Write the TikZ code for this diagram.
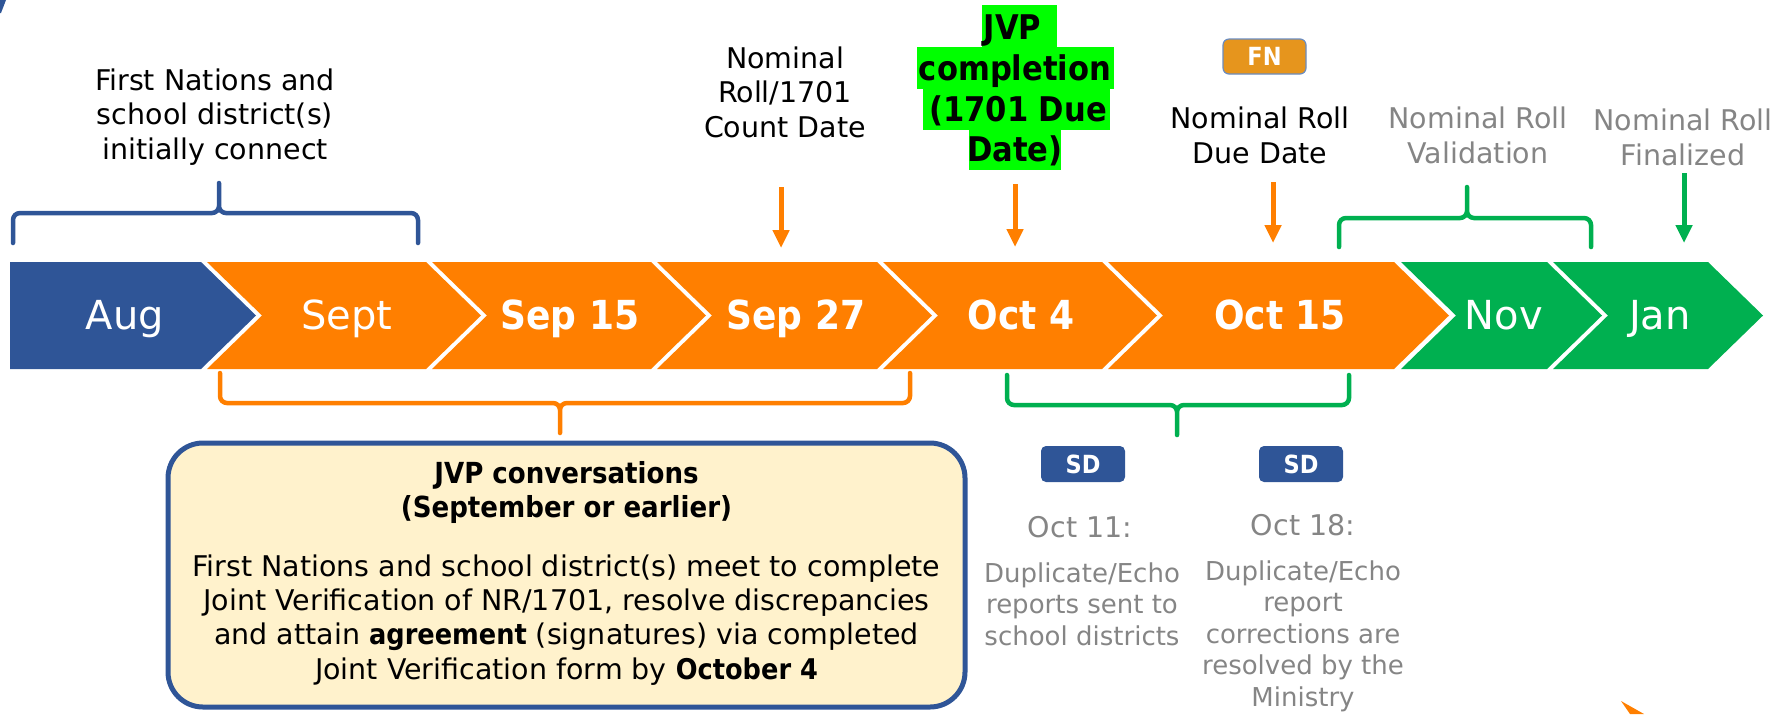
\documentclass[tikz,border=0pt]{standalone}
\usepackage{fontspec}
\setmainfont{DejaVu Sans}[BoldFeatures={FakeStretch=0.9}]
\usetikzlibrary{arrows.meta}
\definecolor{nblue}{HTML}{2F5597}
\definecolor{norange}{HTML}{FF7F00}
\definecolor{ngreen}{HTML}{00B050}
\definecolor{ngray}{HTML}{858585}
\definecolor{nfn}{HTML}{E6951D}
\definecolor{nyellow}{HTML}{FFF2CC}
\definecolor{nhl}{HTML}{00FF00}
\definecolor{nfnborder}{HTML}{6A8CC0}
\newcommand\mychev[3]{\fill[#1] (#2,262) -- (#3,262) -- ({#3+55},315.5) -- (#3,369) -- (#2,369) -- ({#2+55},315.5) -- cycle;}
\begin{document}
\begin{tikzpicture}[x=0.5pt,y=-0.5pt,
  lbl/.style={inner sep=0pt, anchor=base, align=center, font=\fontsize{14.25pt}{17.25pt}\selectfont},
  small/.style={inner sep=0pt, anchor=base, align=center, text=ngray, font=\fontsize{13pt}{15.75pt}\selectfont},
  chev/.style={inner sep=0pt, anchor=base, text=white, font=\fontsize{20pt}{24pt}\selectfont},
  jvp/.style={inner sep=0pt, anchor=base, font=\fontsize{17pt}{20.5pt}\selectfont\bfseries},
  brace/.style={line width=2.25pt, rounded corners=3.5pt, line cap=round},
  arr/.style={line width=2.5pt, -{Triangle[length=9pt,width=8pt]}},
  tag/.style={rounded corners=2.5pt, minimum width=42pt, minimum height=18pt, inner sep=0pt, text=white, font=\fontsize{12.5pt}{15pt}\selectfont\bfseries}
]
\useasboundingbox (0,0) rectangle (1783,714);
% corner fragments
\fill[nblue] (0,0) -- (6,0) -- (1,13) -- (0,13) -- cycle;
\fill[norange] (1621,701) -- (1644,714) -- (1630,714) -- cycle;

% timeline chevrons
\fill[nblue] (10,262) -- (201,262) -- (256,315.5) -- (201,369) -- (10,369) -- cycle;
\mychev{norange}{207}{426}
\mychev{norange}{432}{651}
\mychev{norange}{657}{877}
\mychev{norange}{883}{1102}
\mychev{norange}{1108}{1394}
\mychev{ngreen}{1401}{1547}
\mychev{ngreen}{1553}{1708}

\node[chev] (aug) at (125,329) {Aug};
\node[chev] (sept) at (347,329) {Sept};
\node[chev] (sep15) at (570,329) {\bfseries Sep 15};
\node[chev] (sep27) at (796,329) {\bfseries Sep 27};
\node[chev] (oct4) at (1021,329) {\bfseries Oct 4};
\node[chev] (oct15) at (1280,329) {\bfseries Oct 15};
\node[chev] (nov) at (1504,329) {Nov};
\node[chev] (jan) at (1660,329) {Jan};

% top labels (y = baseline of last line)
\node[lbl] (connect) at (215,159) {First Nations and\\school district(s)\\initially connect};
\node[lbl] (count) at (785,137) {Nominal\\Roll/1701\\Count Date};
\node[lbl] (nrdue) at (1260,163) {Nominal Roll\\Due Date};
\node[lbl, text=ngray] (valid) at (1478,163) {Nominal Roll\\Validation};
\node[lbl, text=ngray] (final) at (1683,165) {Nominal Roll\\Finalized};

% JVP completion highlighted
\fill[nhl] (982,5) rectangle (1057,47);
\fill[nhl] (917,47) rectangle (1114,89);
\fill[nhl] (923,89) rectangle (1110,130);
\fill[nhl] (969,130) rectangle (1061,170);
\node[jvp] (jvpA) at (1012.5,39) {JVP};
\node[jvp] (jvpB) at (1015,80) {completion};
\node[jvp] (jvpC) at (1018,121) {(1701 Due};
\node[jvp] (jvpD) at (1015,161) {Date)};

% FN tag
\node[tag, draw=nfnborder, line width=0.6pt, fill=nfn, rounded corners=3pt, minimum width=41.5pt, minimum height=17.5pt] (fn) at (1264.5,56.5) {FN};

% arrows
\coordinate (a1s) at (781,187); \coordinate (a1e) at (781,248);
\coordinate (a2s) at (1015,184); \coordinate (a2e) at (1015,247);
\coordinate (a3s) at (1273,182); \coordinate (a3e) at (1273,243);
\coordinate (a4s) at (1684,173); \coordinate (a4e) at (1684,243);
\draw[arr, norange] (a1s) -- (a1e);
\draw[arr, norange] (a2s) -- (a2e);
\draw[arr, norange] (a3s) -- (a3e);
\draw[arr, ngreen] (a4s) -- (a4e);

% braces
\draw[brace, nblue] (13,243) -- (13,213) -- (219,213) -- (219,183) (418,243) -- (418,213) -- (219,213) -- (219,183);
\draw[brace, ngreen] (1339,247) -- (1339,218) -- (1467,218) -- (1467,187) (1591,247) -- (1591,218) -- (1467,218) -- (1467,187);
\draw[brace, norange] (220,373) -- (220,403) -- (560,403) -- (560,433) (910,373) -- (910,403) -- (560,403) -- (560,433);
\draw[brace, ngreen] (1007,375) -- (1007,405) -- (1177,405) -- (1177,435) (1349,375) -- (1349,405) -- (1177,405) -- (1177,435);

% JVP conversations box
\node[draw=nblue, line width=2.5pt, fill=nyellow, rounded corners=17.5pt, minimum width=398.5pt, minimum height=132pt, inner sep=0pt] (box) at (566.5,575) {};
\node[inner sep=0pt, anchor=base, align=center, font=\fontsize{14.5pt}{17pt}\selectfont\bfseries] (boxhead) at (566.5,517) {JVP conversations\\(September or earlier)};
\node[lbl, font=\fontsize{14.25pt}{17.1pt}\selectfont] (boxbody) at (566.5,679) {First Nations and school district(s) meet to complete\\Joint Verification of NR/1701, resolve discrepancies\\and attain \textbf{agreement} (signatures) via completed\\Joint Verification form by \textbf{October 4}};

% SD tags and notes
\node[tag, fill=nblue] (sd1) at (1083,464) {SD};
\node[tag, fill=nblue] (sd2) at (1301,464) {SD};
\node[lbl, text=ngray] (oct11) at (1080,537) {Oct 11:};
\node[lbl, text=ngray] (oct18) at (1303,535) {Oct 18:};
\node[small] (note1) at (1082,645) {Duplicate/Echo\\reports sent to\\school districts};
\node[small] (note2) at (1303,706) {Duplicate/Echo\\report\\corrections are\\resolved by the\\Ministry};
\end{tikzpicture}
\end{document}
